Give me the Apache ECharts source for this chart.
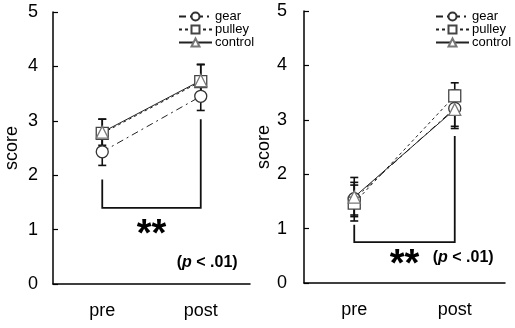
<!DOCTYPE html>
<html>
<head>
<meta charset="utf-8">
<script src="https://cdn.jsdelivr.net/npm/echarts@6/dist/echarts.min.js"></script>
<style>
  html, body { margin: 0; padding: 0; background: #fff; }
  #chart { width: 515px; height: 328px; }
</style>
</head>
<body>
<div id="chart"></div>
<script>
// ---- data ----
const categories = ['pre', 'post'];
const groups = ['gear', 'pulley', 'control'];

// left panel
const gearA = [2.43, 3.45];
const pulleyA = [2.77, 3.72];
const controlA = [2.79, 3.74];
const gearErrA = [0.25, 0.26];
const pulleyErrA = [0.26, 0.31];
const controlErrA = [0.24, 0.30];
const bracketA = [1.92, 3.03, 1.40]; // pre top, post top, bar level

// right panel
const gearB = [1.55, 3.21];
const pulleyB = [1.47, 3.44];
const controlB = [1.58, 3.19];
const gearErrB = [0.30, 0.33];
const pulleyErrB = [0.33, 0.24];
const controlErrB = [0.36, 0.35];
const bracketB = [1.07, 2.70, 0.75];

const sigLabel = '**';

const FONT = '"Liberation Sans", Arial, sans-serif';

// ---- styles per group ----
const groupStyle = {
  gear:    { symbol: 'circle',   dash: [7, 4, 2, 4], border: '#333' },
  pulley:  { symbol: 'rect',     dash: [3, 3],       border: '#444' },
  control: { symbol: 'triangle', dash: 'solid',      border: '#777' }
};

function lineSeries(name, data, idx) {
  const s = groupStyle[name];
  return {
    name: name,
    type: 'line',
    xAxisIndex: idx,
    yAxisIndex: idx,
    data: data,
    symbol: s.symbol,
    symbolSize: 12,
    showAllSymbol: true,
    lineStyle: { color: '#222', width: 1, type: s.dash },
    itemStyle: { color: '#fff', borderColor: s.border, borderWidth: 1.3 },
    emphasis: { disabled: true },
    z: 4
  };
}

function errorData(vals, errs) {
  return vals.map((v, i) => [i, v - errs[i], v + errs[i]]);
}

function errorSeries(list, idx) {
  let data = [];
  list.forEach(p => { data = data.concat(errorData(p[0], p[1])); });
  return {
    type: 'custom',
    xAxisIndex: idx,
    yAxisIndex: idx,
    data: data,
    z: 3,
    silent: true,
    renderItem: function (params, api) {
      const x = api.value(0);
      const lo = api.coord([x, api.value(1)]);
      const hi = api.coord([x, api.value(2)]);
      const w = 4;
      const st = { stroke: '#111', lineWidth: 1.6 };
      return {
        type: 'group',
        children: [
          { type: 'line', shape: { x1: lo[0], y1: lo[1], x2: hi[0], y2: hi[1] }, style: st },
          { type: 'line', shape: { x1: lo[0] - w, y1: lo[1], x2: lo[0] + w, y2: lo[1] }, style: st },
          { type: 'line', shape: { x1: hi[0] - w, y1: hi[1], x2: hi[0] + w, y2: hi[1] }, style: st }
        ]
      };
    }
  };
}

// bracket + significance text; ann = [star level, p level, p offset from post]
function bracketSeries(br, ann, idx) {
  return {
    type: 'custom',
    xAxisIndex: idx,
    yAxisIndex: idx,
    data: [[0, 1, br[0], br[1], br[2]]],
    z: 2,
    silent: true,
    renderItem: function (params, api) {
      const a = api.coord([api.value(0), api.value(2)]);
      const b = api.coord([api.value(0), api.value(4)]);
      const c = api.coord([api.value(1), api.value(4)]);
      const d = api.coord([api.value(1), api.value(3)]);
      const star = api.coord([api.value(0), ann[0]]);
      const pp = api.coord([api.value(1), ann[1]]);
      return {
        type: 'group',
        children: [
          { type: 'polyline', shape: { points: [a, b, c, d] },
            style: { stroke: '#111', lineWidth: 1.8, fill: null } },
          { type: 'text',
            style: { text: sigLabel, x: (b[0] + c[0]) / 2, y: star[1] + 8,
                     align: 'center', verticalAlign: 'middle',
                     font: 'bold 38px ' + FONT, fill: '#000' } },
          { type: 'text',
            style: { text: '{b|(}{i|p}{b| < .01)}', x: pp[0] + ann[2], y: pp[1],
                     align: 'left', verticalAlign: 'middle',
                     rich: {
                       b: { fontWeight: 'bold', fontSize: 16, fontFamily: FONT, fill: '#000' },
                       i: { fontWeight: 'bold', fontStyle: 'italic', fontSize: 16, fontFamily: FONT, fill: '#000' }
                     } } }
        ]
      };
    }
  };
}

function xAxisCfg(idx) {
  return {
    gridIndex: idx,
    type: 'category',
    data: categories,
    boundaryGap: true,
    axisLine: { lineStyle: { color: '#000', width: 1.5 } },
    axisTick: { inside: true, length: 5, lineStyle: { color: '#000', width: 1.2 } },
    axisLabel: { margin: 18, fontSize: 18, color: '#000', fontFamily: FONT },
    splitLine: { show: false }
  };
}

function yAxisCfg(idx, labelMargin, nameGap) {
  return {
    gridIndex: idx,
    type: 'value',
    min: 0,
    max: 5,
    interval: 1,
    name: 'score',
    nameLocation: 'middle',
    nameGap: nameGap,
    nameTextStyle: { fontSize: 18, color: '#000', fontFamily: FONT },
    axisLine: { show: true, lineStyle: { color: '#000', width: 1.5 } },
    axisTick: { show: true, inside: true, length: 5, lineStyle: { color: '#000', width: 1.2 } },
    axisLabel: { margin: labelMargin, fontSize: 18, color: '#000', fontFamily: FONT },
    splitLine: { show: false }
  };
}

function legendCfg(left) {
  return {
    data: groups,
    orient: 'vertical',
    left: left,
    top: 5,
    itemWidth: 33,
    itemHeight: 10,
    itemGap: 0,
    selectedMode: false,
    itemStyle: { color: '#fff' },
    textStyle: { fontSize: 13, color: '#000', fontFamily: FONT, padding: [0, 0, 0, -2] }
  };
}

const chart = echarts.init(document.getElementById('chart'));
chart.setOption({
  animation: false,
  backgroundColor: '#fff',
  legend: [legendCfg(173), legendCfg(430)],
  grid: [
    { left: 53, right: 265, top: 12, bottom: 44 },
    { left: 304, right: 10, top: 11, bottom: 45 }
  ],
  xAxis: [xAxisCfg(0), xAxisCfg(1)],
  yAxis: [yAxisCfg(0, 15, 32), yAxisCfg(1, 17, 25)],
  series: [
    bracketSeries(bracketA, [1.03, 0.39, -24], 0),
    errorSeries([[gearA, gearErrA], [pulleyA, pulleyErrA], [controlA, controlErrA]], 0),
    lineSeries('gear', gearA, 0),
    lineSeries('pulley', pulleyA, 0),
    lineSeries('control', controlA, 0),
    bracketSeries(bracketB, [0.46, 0.46, -22], 1),
    errorSeries([[gearB, gearErrB], [pulleyB, pulleyErrB], [controlB, controlErrB]], 1),
    lineSeries('gear', gearB, 1),
    lineSeries('pulley', pulleyB, 1),
    lineSeries('control', controlB, 1)
  ]
});
</script>
</body>
</html>
